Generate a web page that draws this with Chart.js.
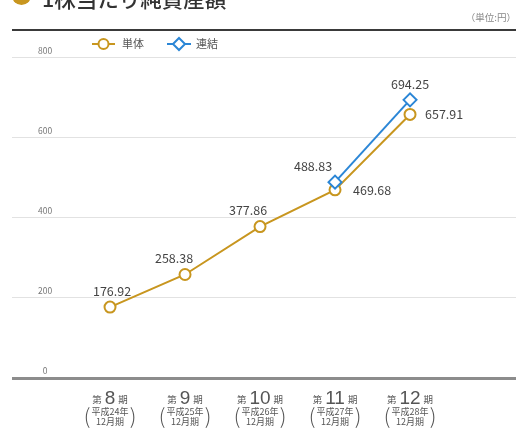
<!DOCTYPE html>
<html><head><meta charset="utf-8">
<script src="https://cdn.jsdelivr.net/npm/chart.js@4/dist/chart.umd.min.js"></script>
<style>
html,body{margin:0;padding:0;background:#fff;}
#wrap{position:relative;width:516px;height:428px;overflow:hidden;font-family:"Noto Sans CJK JP","Noto Sans",sans-serif;}
#c{position:absolute;left:0;top:0;}
#bullet{position:absolute;left:12px;top:-14px;width:19px;height:19px;border-radius:50%;background:#c8961f;}
#title{position:absolute;left:42px;top:-15px;font-size:21.5px;line-height:26px;color:#333;font-weight:500;white-space:nowrap;}
#unit{position:absolute;right:0px;top:10px;font-size:9.5px;line-height:14px;color:#888;white-space:nowrap;}
#rule{position:absolute;left:12px;right:0;top:29px;height:2px;background:#3a3a3a;}
</style></head><body>
<div id="wrap">
<canvas id="c" width="516" height="428"></canvas>
<div id="bullet"></div>
<div id="title"></div>
<div id="unit"></div>
<div id="rule"></div>
</div>
<script>
const title = '1株当たり純資産額';
const unit = '（単位:円）';
const periods = ['8', '9', '10', '11', '12'];
const eraYears = ['平成24年', '平成25年', '平成26年', '平成27年', '平成28年'];
const periodMonth = '12月期';
const seriesNames = ['単体', '連結'];
const standalone = [176.92, 258.38, 377.86, 469.68, 657.91];
const consolidated = [null, null, null, 488.83, 694.25];
const yTicks = [0, 200, 400, 600, 800];

// label placement (style, not data): [dx, dy, align]
const standaloneLabelPos = [[2,-16,'center'],[-11,-16,'center'],[-12,-16,'center'],[18,0,'left'],[15,0,'left']];
const consolidatedLabelPos = [null,null,null,[-22,-16,'center'],[0,-16,'center']];

document.getElementById('title').textContent = title;
document.getElementById('unit').textContent = unit;

const GOLD = '#c8961f';
const BLUE = '#2b86d6';
const JP = '"Noto Sans CJK JP", "Noto Sans", sans-serif';

const toPts = arr => arr.map((v, i) => ({x: i, y: v}));

const labelPlugin = {
  id: 'valueLabels',
  afterDatasetsDraw(chart) {
    const ctx = chart.ctx;
    ctx.save();
    ctx.font = '12.5px ' + JP;
    ctx.fillStyle = '#444';
    ctx.textBaseline = 'middle';
    chart.data.datasets.forEach((ds, di) => {
      const meta = chart.getDatasetMeta(di);
      const pos = ds._labelPos;
      meta.data.forEach((el, i) => {
        const v = ds.data[i].y;
        if (v == null || !pos[i]) return;
        const [dx, dy, al] = pos[i];
        ctx.textAlign = al;
        ctx.fillText(v.toFixed(2), el.x + dx, el.y + dy);
      });
    });
    ctx.restore();
  }
};

const xLabelPlugin = {
  id: 'xLabels',
  afterDraw(chart) {
    const ctx = chart.ctx;
    const xs = chart.scales.x;
    ctx.save();
    ctx.fillStyle = '#555';
    periods.forEach((p, i) => {
      const cx = xs.getPixelForValue(i);
      const fSmall = '9.5px ' + JP, fBig = '19px "Liberation Sans", Arial, sans-serif';
      ctx.font = fSmall; const w1 = ctx.measureText('第').width; const w3 = ctx.measureText('期').width;
      ctx.font = fBig; const w2 = ctx.measureText(p).width;
      const gap = 3;
      let x = cx - (w1 + w2 + w3 + 2 * gap) / 2;
      const base = 403;
      ctx.textAlign = 'left'; ctx.textBaseline = 'alphabetic';
      ctx.font = fSmall; ctx.fillText('第', x, base); x += w1 + gap;
      ctx.font = fBig; ctx.fillText(p, x, base + 1); x += w2 + gap;
      ctx.font = fSmall; ctx.fillText('期', x, base);
      ctx.textAlign = 'center'; ctx.textBaseline = 'middle';
      ctx.font = '9px ' + JP;
      ctx.fillText(eraYears[i], cx, 412);
      ctx.fillText(periodMonth, cx, 422);
      ctx.font = '300 21px ' + JP;
      ctx.fillText('(', cx - 23, 416);
      ctx.fillText(')', cx + 23, 416);
    });
    ctx.restore();
  }
};

const legendPlugin = {
  id: 'customLegend',
  afterDraw(chart) {
    const ctx = chart.ctx;
    ctx.save();
    const y = 44;
    ctx.strokeStyle = GOLD; ctx.lineWidth = 2;
    ctx.beginPath(); ctx.moveTo(92, y); ctx.lineTo(115, y); ctx.stroke();
    ctx.fillStyle = '#fff';
    ctx.beginPath(); ctx.arc(103.5, y, 5, 0, Math.PI * 2); ctx.fill(); ctx.stroke();
    ctx.strokeStyle = BLUE;
    ctx.beginPath(); ctx.moveTo(167, y); ctx.lineTo(191, y); ctx.stroke();
    ctx.beginPath(); ctx.moveTo(179, y - 6); ctx.lineTo(185, y); ctx.lineTo(179, y + 6); ctx.lineTo(173, y); ctx.closePath();
    ctx.fill(); ctx.stroke();
    ctx.fillStyle = '#555';
    ctx.font = '11px ' + JP; ctx.textAlign = 'left'; ctx.textBaseline = 'middle';
    ctx.fillText(seriesNames[0], 122, y);
    ctx.fillText(seriesNames[1], 196, y);
    ctx.restore();
  }
};

new Chart(document.getElementById('c'), {
  type: 'line',
  data: {
    datasets: [
      {
        label: seriesNames[1], data: toPts(consolidated), _labelPos: consolidatedLabelPos,
        borderColor: BLUE, borderWidth: 2, pointStyle: 'rectRot', pointRadius: 6.5,
        pointBackgroundColor: '#fff', pointBorderColor: BLUE, pointBorderWidth: 2, order: 0
      },
      {
        label: seriesNames[0], data: toPts(standalone), _labelPos: standaloneLabelPos,
        borderColor: GOLD, borderWidth: 2, pointStyle: 'circle', pointRadius: 5.5,
        pointBackgroundColor: '#fff', pointBorderColor: GOLD, pointBorderWidth: 2, order: 1
      }
    ]
  },
  options: {
    responsive: false, devicePixelRatio: 1, animation: false,
    layout: {padding: {left: 12, right: 0, top: 57.5, bottom: 50}, autoPadding: false},
    plugins: {legend: {display: false}, tooltip: {enabled: false}},
    scales: {
      x: {type: 'linear', min: -1.307, max: 5.413, display: false},
      y: {
        min: 0, max: 800,
        afterBuildTicks: s => { s.ticks = yTicks.map(v => ({value: v})); },
        afterFit: s => { s.width = 0; },
        border: {display: false},
        grid: {
          drawTicks: false,
          color: c => c.tick && c.tick.value === 0 ? '#8c8c8c' : '#e2e2e2',
          lineWidth: c => c.tick && c.tick.value === 0 ? 3 : 1
        },
        ticks: {
          mirror: true, crossAlign: 'center', padding: 26, labelOffset: -7,
          color: '#777', font: {size: 8.5, family: JP}
        }
      }
    }
  },
  plugins: [labelPlugin, xLabelPlugin, legendPlugin]
});
</script>
</body></html>
